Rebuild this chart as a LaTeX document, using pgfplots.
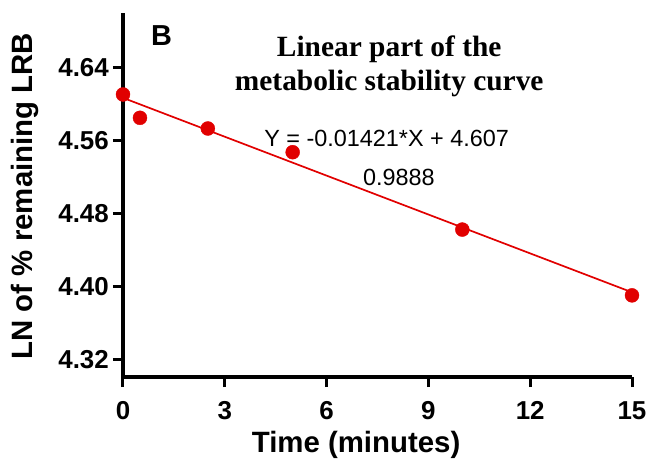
\documentclass[border=0pt]{standalone}
\usepackage{fontspec}
\setmainfont{Liberation Sans}
\newfontfamily\timesfont{Liberation Serif}
\usepackage{pgfplots}
\pgfplotsset{compat=1.18}
\definecolor{pred}{RGB}{225,0,0}
\begin{document}
\begin{tikzpicture}
\begin{axis}[
  scale only axis, width=509bp, height=364bp,
  xmin=0, xmax=15, ymin=4.301, ymax=4.70,
  axis lines=left,
  axis line style={-, line width=3.5bp, black},
  xtick={0,3,6,9,12,15},
  ytick={4.32,4.40,4.48,4.56,4.64},
  tick align=outside,
  major tick length=10bp,
  tick style={line width=3bp, black},
  /pgf/number format/assume math mode=true,
  yticklabel style={/pgf/number format/fixed, /pgf/number format/fixed zerofill, /pgf/number format/precision=2, xshift=-4bp},
  ticklabel style={font=\fontsize{26}{26}\selectfont\bfseries, inner sep=0pt},
  xticklabel style={yshift=-14bp},
  clip=false,
]
\addplot[pred, line width=1.7bp] coordinates {(0,4.607) (15,4.39385)};
\addplot[only marks, mark=*, mark size=7bp, color=pred, mark options={draw=pred, fill=pred}] coordinates {
(0,4.6107) (0.5,4.5851) (2.5,4.5734) (5,4.5474) (10,4.4626) (15,4.3905)};
\coordinate (O) at (rel axis cs:0,0);
\node[anchor=base west, font=\fontsize{29}{29}\selectfont\bfseries, inner sep=0pt] at (rel axis cs:0.055,0.912) {B};
\node[anchor=base, font=\fontsize{29.5}{30}\selectfont\timesfont\bfseries, inner sep=0pt] at (rel axis cs:0.523,0.880) {Linear part of the};
\node[anchor=base, font=\fontsize{29.5}{30}\selectfont\timesfont\bfseries, inner sep=0pt] at (rel axis cs:0.523,0.788) {metabolic stability curve};
\node[anchor=base, font=\fontsize{23.5}{24}\selectfont, inner sep=0pt] at (rel axis cs:0.518,0.633) {Y = -0.01421*X + 4.607};
\node[anchor=base, font=\fontsize{23.5}{24}\selectfont, inner sep=0pt] at (rel axis cs:0.542,0.527) {0.9888};
\node[anchor=base, font=\fontsize{29.5}{30}\selectfont\bfseries, inner sep=0pt, yshift=-75bp] at (rel axis cs:0.458,0) {Time (minutes)};
\node[anchor=base, xshift=-90bp, rotate=90, font=\fontsize{29.5}{30}\selectfont\bfseries, inner sep=0pt] at (rel axis cs:0,0.497) {LN of \% remaining LRB};
\end{axis}
\pgfresetboundingbox
\path (O) ++(-123bp,-89bp) rectangle ++(649bp,466bp);
\end{tikzpicture}
\end{document}
